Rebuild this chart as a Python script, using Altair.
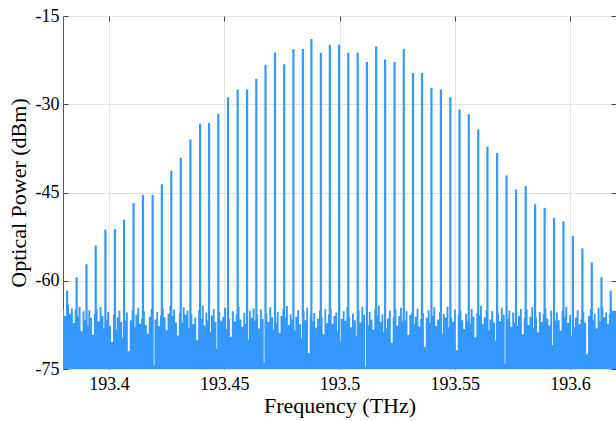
import altair as alt
import pandas as pd

# Comb line frequencies (THz) and peak powers (dBm)
line_freq = [
    193.3818, 193.3859, 193.3902, 193.3942, 193.3984, 193.4025, 193.4065, 193.4106,
    193.4147, 193.4189, 193.4229, 193.4270, 193.4311, 193.4353, 193.4395, 193.4434,
    193.4474, 193.4516, 193.4558, 193.4599, 193.4639, 193.4679, 193.4720, 193.4760,
    193.4800, 193.4841, 193.4878, 193.4919, 193.4958, 193.4998, 193.5038, 193.5079,
    193.5119, 193.5159, 193.5198, 193.5239, 193.5279, 193.5319, 193.5358, 193.5399,
    193.5440, 193.5481, 193.5521, 193.5561, 193.5602, 193.5642, 193.5684, 193.5725,
    193.5766, 193.5808, 193.5849, 193.5890, 193.5931, 193.5972, 193.6013, 193.6054,
    193.6095, 193.6137, 193.6177,
]
line_power = [
    -61.7, -59.4, -57.2, -54.0, -51.3, -51.2, -49.6, -46.8,
    -45.4, -45.4, -43.6, -41.3, -39.1, -36.0, -33.3, -33.2,
    -31.6, -28.8, -27.5, -27.5, -25.7, -23.3, -21.2, -23.2,
    -20.6, -20.6, -18.9, -21.3, -19.9, -19.9, -21.3, -21.2,
    -22.8, -20.2, -22.4, -22.8, -20.6, -24.7, -24.7, -27.2,
    -27.5, -28.8, -30.9, -31.7, -34.3, -37.2, -38.3, -42.1,
    -44.5, -43.9, -47.0, -47.6, -49.3, -49.9, -52.4, -54.5,
    -56.9, -59.4, -61.7,
]

# Noise floor (dBm), five readings in each gap between neighbouring comb lines
noise_gaps = [
    [-64.0, -65.6, -64.7, -67.2, -64.9], [-66.1, -64.4, -68.6, -65.2, -66.7],
    [-67.6, -65.0, -66.3, -69.2, -65.7], [-64.8, -66.9, -64.5, -66.0, -68.1],
    [-66.6, -65.3, -67.7, -70.4, -65.8], [-68.3, -66.2, -65.1, -67.0, -69.7],
    [-66.8, -65.4, -72.0, -66.7, -65.0], [-67.9, -65.8, -64.6, -67.3, -66.4],
    [-65.2, -67.5, -69.0, -66.1, -64.8], [-74.4, -66.6, -65.3, -67.7, -65.9],
    [-64.7, -66.2, -68.4, -65.6, -64.3], [-66.0, -64.9, -67.1, -69.3, -65.5],
    [-67.2, -64.5, -65.8, -65.1, -68.0], [-65.7, -67.4, -66.3, -70.1, -65.0],
    [-66.5, -64.2, -67.6, -65.4, -66.7], [-68.7, -65.9, -64.8, -67.0, -71.6],
    [-65.3, -66.8, -66.1, -64.6, -68.2], [-66.4, -69.5, -65.2, -66.9, -65.7],
    [-64.4, -66.6, -67.8, -65.5, -67.3], [-70.0, -65.1, -66.3, -64.7, -66.8],
    [-65.8, -68.1, -64.9, -66.5, -73.9], [-65.6, -67.0, -64.5, -66.2, -68.4],
    [-67.1, -65.3, -68.9, -66.0, -64.8], [-66.3, -64.3, -67.5, -65.7, -66.6],
    [-68.5, -66.1, -65.0, -67.4, -69.8], [-65.2, -66.7, -64.6, -72.3, -65.9],
    [-66.9, -65.5, -68.0, -66.4, -65.1], [-66.2, -69.1, -64.8, -67.2, -65.8],
    [-64.7, -67.3, -66.0, -65.4, -68.6], [-70.4, -66.5, -65.2, -66.8, -64.5],
    [-66.1, -67.9, -65.6, -66.7, -69.4], [-65.0, -67.1, -64.4, -65.8, -74.6],
    [-67.5, -65.3, -66.6, -68.3, -64.9], [-65.9, -64.2, -67.0, -65.7, -68.8],
    [-68.1, -66.4, -65.1, -70.6, -66.2], [-64.8, -67.6, -66.0, -64.6, -66.9],
    [-66.7, -65.2, -69.2, -65.8, -65.4], [-67.4, -66.1, -64.7, -67.8, -66.5],
    [-65.5, -71.2, -66.3, -65.0, -67.2], [-66.0, -64.5, -67.7, -66.6, -65.3],
    [-69.0, -65.6, -66.2, -64.4, -67.9], [-66.3, -67.0, -64.9, -71.8, -65.8],
    [-65.1, -66.7, -68.2, -65.6, -66.8], [-67.3, -64.8, -66.1, -69.6, -65.5],
    [-65.9, -64.3, -67.4, -66.2, -65.0], [-68.4, -66.6, -65.2, -67.1, -70.2],
    [-65.7, -66.9, -64.6, -65.8, -74.1], [-66.5, -65.1, -67.8, -65.4, -67.2],
    [-67.7, -66.0, -64.8, -69.1, -66.3], [-64.9, -67.5, -66.1, -64.5, -68.0],
    [-66.2, -68.8, -65.3, -67.0, -65.6], [-64.7, -66.4, -67.6, -65.1, -70.9],
    [-66.8, -65.4, -66.7, -68.5, -65.2], [-66.1, -64.4, -67.2, -65.8, -69.3],
    [-67.9, -66.3, -65.0, -67.4, -66.6], [-65.3, -67.1, -72.5, -66.0, -64.8],
    [-66.7, -65.6, -68.1, -64.6, -66.9], [-64.5, -66.2, -65.4, -67.3, -65.7],
]
edge_freq = [193.3800, 193.3809, 193.6187, 193.6200]
edge_noise = [-64.8, -66.0, -65.1, -65.1]

x_ticks = [193.4, 193.45, 193.5, 193.55, 193.6]
y_ticks = [-75, -60, -45, -30, -15]
x_domain = [193.38, 193.62]
y_domain = [-75, -15]

BLUE = "#3399ff"
FONT = "Liberation Serif"

# Build tables
nf, nv = [], []
for i, vals in enumerate(noise_gaps):
    a, b = line_freq[i], line_freq[i + 1]
    n = len(vals)
    for j, v in enumerate(vals):
        nf.append(a + (j + 0.5) / n * (b - a))
        nv.append(v)
nf += edge_freq
nv += edge_noise
noise_df = pd.DataFrame({"f": nf, "p": nv}).sort_values("f")
lines_df = pd.DataFrame({"f": line_freq, "p": line_power})

xs = alt.Scale(domain=x_domain, nice=False, zero=False)
ys = alt.Scale(domain=y_domain, nice=False, zero=False)

common_axis = dict(
    offset=-5, tickSize=5, tickColor="#444", tickWidth=1, domain=False,
    labelFont=FONT, labelFontSize=18, labelColor="#000",
    titleFont=FONT, titleFontSize=22, titleColor="#000", titleFontWeight="normal",
)

x_bottom = alt.Axis(values=x_ticks, format="~g", orient="bottom", grid=True,
                    gridColor="#e3e3e3", gridWidth=1, labelPadding=6,
                    title="Frequency (THz)", titlePadding=2, **common_axis)
y_left = alt.Axis(values=y_ticks, labelExpr="'' + datum.value", orient="left", grid=True,
                  gridColor="#e3e3e3", gridWidth=1, labelPadding=4,
                  title="Optical Power (dBm)", titlePadding=5, **common_axis)
x_top = alt.Axis(values=x_ticks, orient="top", grid=False, labels=False,
                 title=None, offset=-5, tickSize=5, tickColor="#444", domain=False)
y_right = alt.Axis(values=y_ticks, orient="right", grid=False, labels=False,
                   title=None, offset=-5, tickSize=5, tickColor="#444", domain=False)

noise = alt.Chart(noise_df).mark_area(interpolate="step", color=BLUE, opacity=1).encode(
    x=alt.X("f:Q", scale=xs, axis=x_bottom),
    y=alt.Y("p:Q", scale=ys, axis=y_left),
    y2=alt.datum(-75),
)

combs = alt.Chart(lines_df).mark_rule(color=BLUE, strokeWidth=2.2).encode(
    x=alt.X("f:Q", scale=xs, axis=None),
    y=alt.Y("p:Q", scale=ys, axis=None),
    y2=alt.datum(-75),
)

frame = alt.Chart(lines_df).mark_point(opacity=0).encode(
    x=alt.X("f:Q", scale=xs, axis=x_top),
    y=alt.Y("p:Q", scale=ys, axis=y_right),
)

chart = alt.layer(noise, combs, frame).resolve_axis(
    x="independent", y="independent"
).properties(
    width=553, height=353,
    autosize=alt.AutoSizeParams(type="none"),
    padding={"left": 63, "top": 16, "right": 0, "bottom": 52},
    background="white",
).configure_view(stroke="#555", strokeWidth=1)

chart.save("out.html", embed_options={"renderer": "svg", "actions": False})
